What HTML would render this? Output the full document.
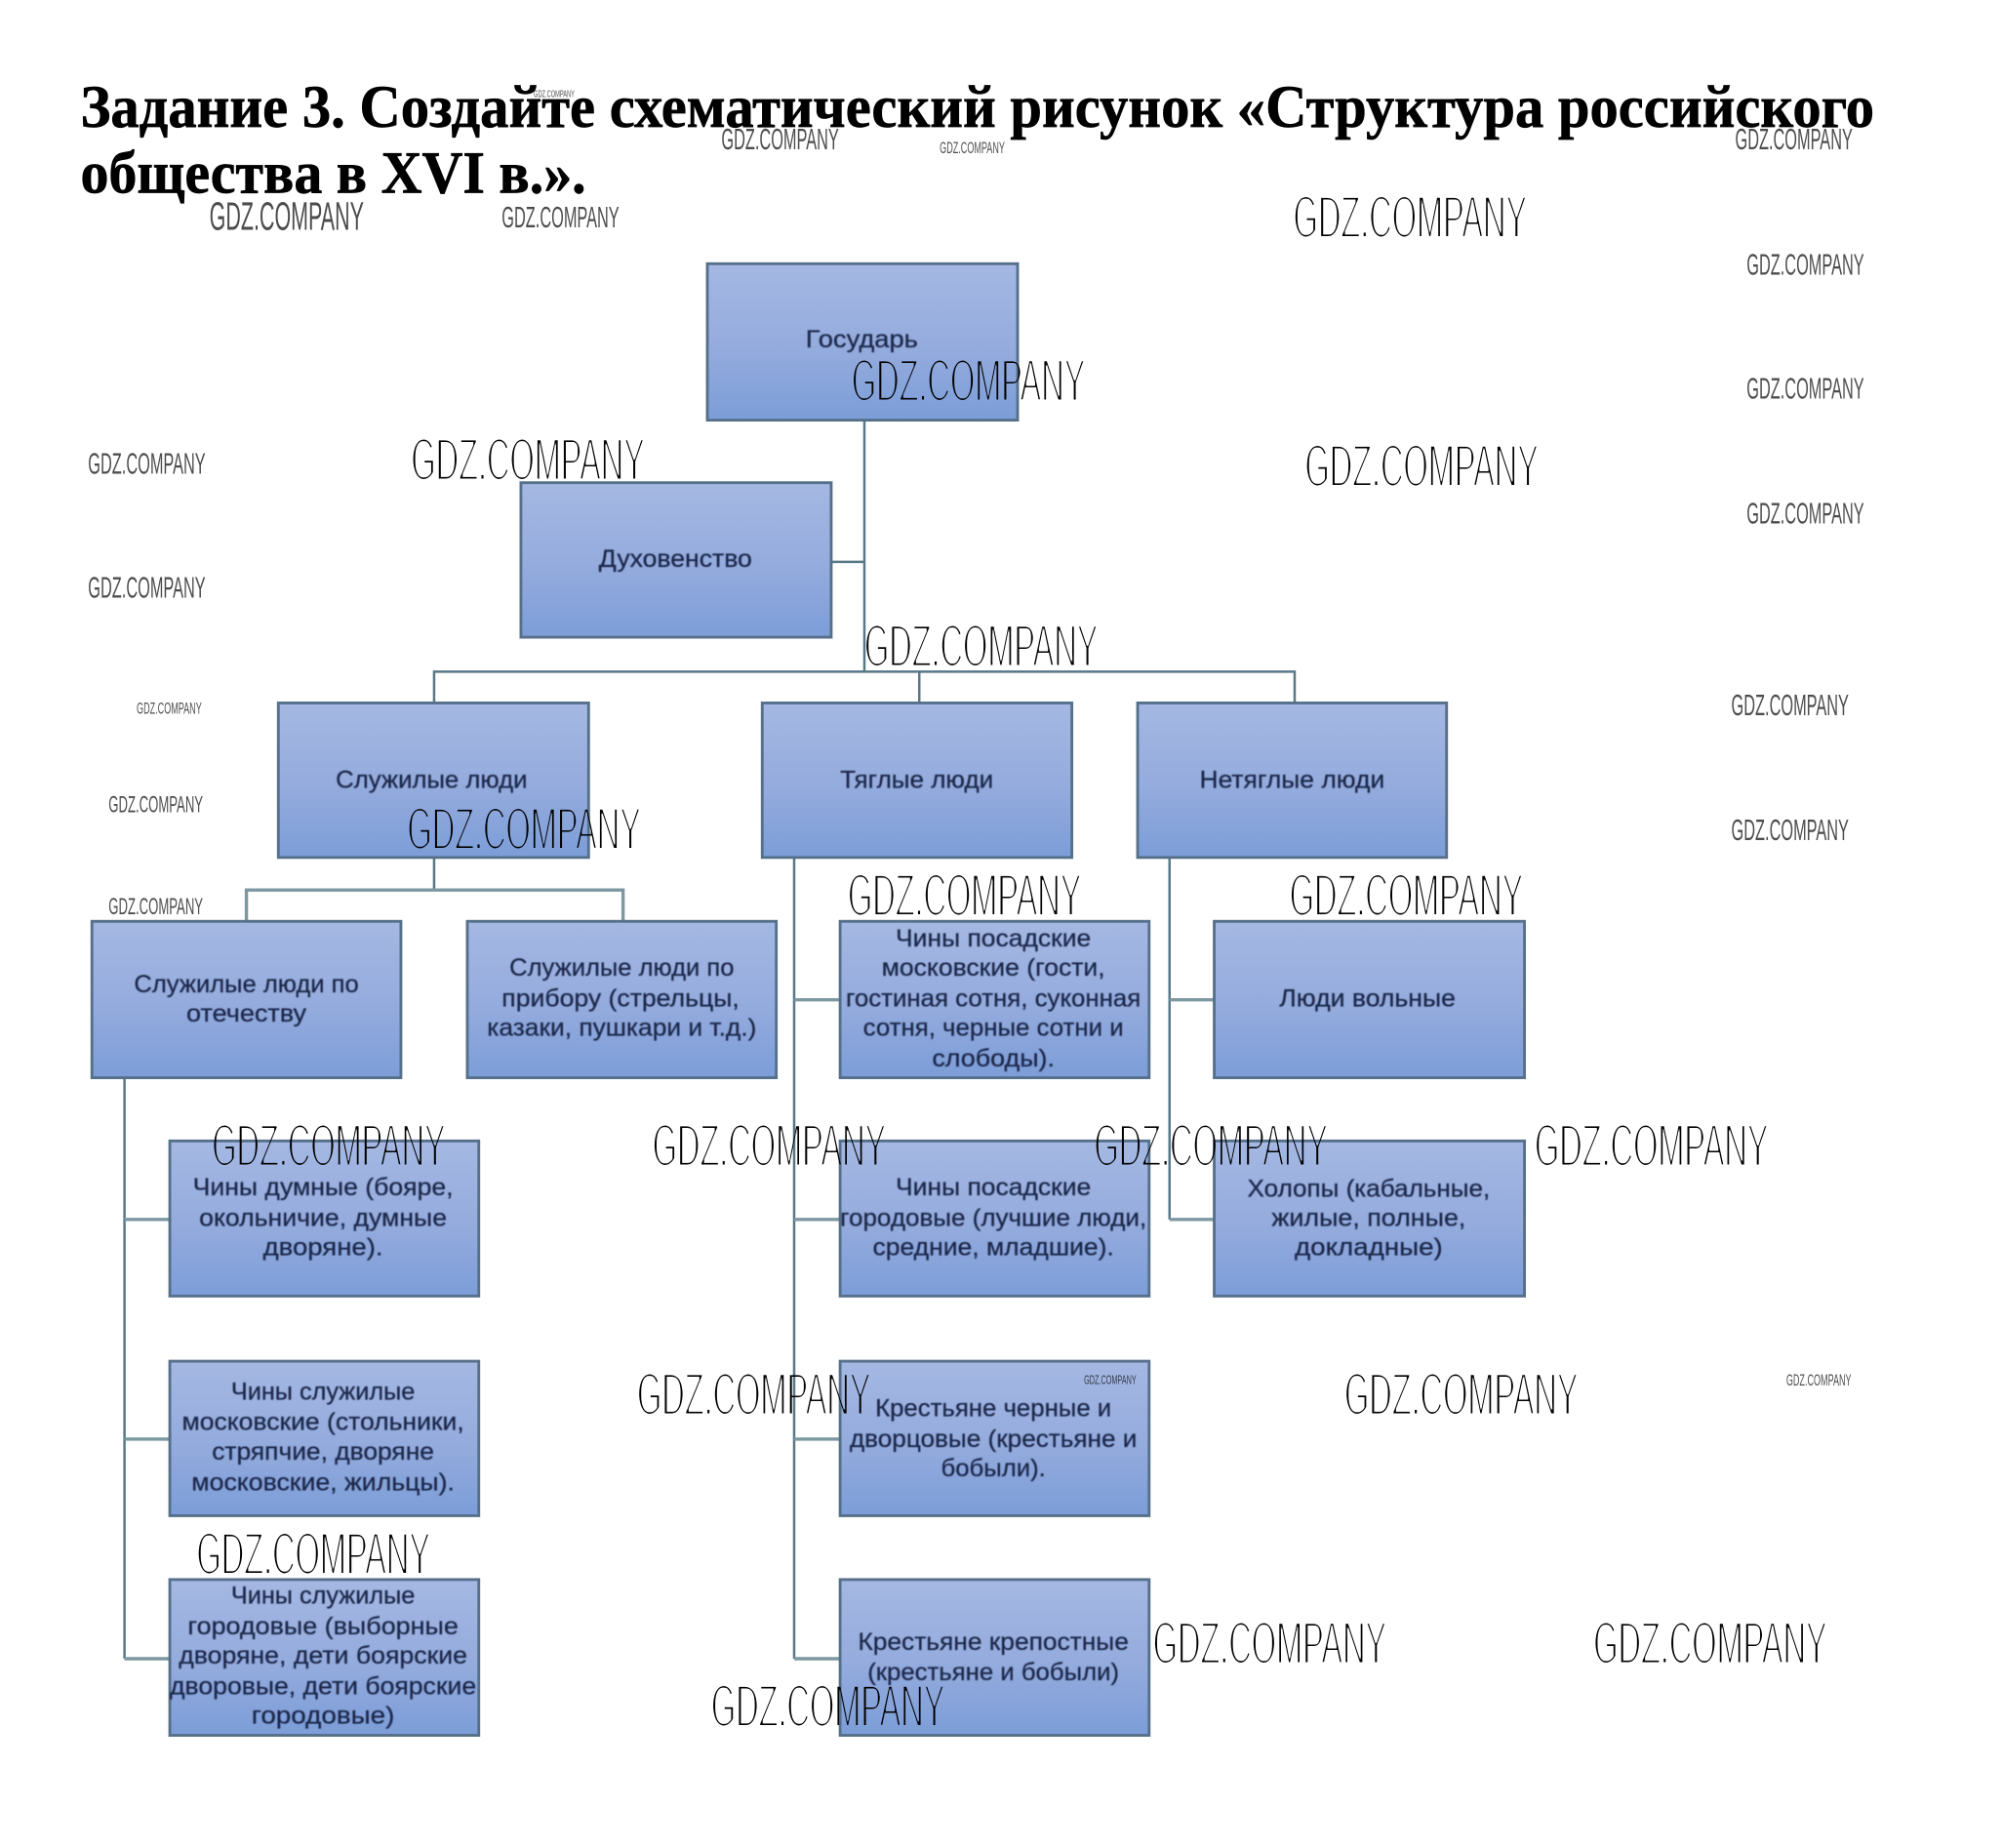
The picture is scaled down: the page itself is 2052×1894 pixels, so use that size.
<!DOCTYPE html>
<html lang="ru"><head><meta charset="utf-8"><title>Структура российского общества</title>
<style>
html,body{margin:0;padding:0;background:#fff;width:2052px;height:1894px;overflow:hidden}
svg{display:block}
.b{fill:url(#g);stroke:#56708a;stroke-width:2.2}
.l{fill:none;stroke:#587886;stroke-width:1.9}
.h{fill:none;stroke:#7d98a2;stroke-width:2.6}
.t text{font-family:"Liberation Sans",sans-serif;font-size:19px;fill:#1a2748;stroke:#1a2748;stroke-width:.2;text-anchor:middle}
.w text{font-family:"Liberation Sans",sans-serif;fill:#000}
.ttl{font-family:"Liberation Serif",serif;font-weight:bold;font-size:47px;fill:#000;stroke:#000;stroke-width:.5}
</style></head><body>
<svg xmlns="http://www.w3.org/2000/svg" width="2052" height="1894" viewBox="0 0 1568 1447.2">
<defs>
<linearGradient id="g" x1="0" y1="0" x2="0" y2="1"><stop offset="0" stop-color="#a5b8e3"/><stop offset=".55" stop-color="#94abdd"/><stop offset="1" stop-color="#7c9dd8"/></linearGradient>
<filter id="thin" x="-5%" y="-20%" width="110%" height="140%"><feMorphology operator="erode" radius="0.5 1"/></filter>
<filter id="soft" x="-5%" y="-20%" width="110%" height="140%"><feGaussianBlur stdDeviation="0.45"/></filter>
</defs>
<rect width="1568" height="1448" fill="#fff"/>
<text class="ttl" x="63" y="99.500" textLength="1405" lengthAdjust="spacingAndGlyphs">Задание 3. Создайте схематический рисунок «Структура российского</text>
<text class="ttl" x="63" y="151" textLength="396" lengthAdjust="spacingAndGlyphs">общества в XVI в.».</text>

<path class="l" d="M677 329V526M651 440H677M340 550V526H1014V550M720 526V550"/>
<path class="l" d="M340 671V696"/>
<path class="h" d="M193 721V697H488V721"/>
<path class="l" d="M97.500 844V1299M622 671V1299M916 671V955"/>
<path class="h" d="M97.500 955H133M97.500 1127H133M97.500 1299H133M622 783H658M622 955H658M622 1127H658M622 1299H658M916 783H951M916 955H951"/>

<rect class="b" x="554" y="206.500" width="243" height="122.500"/>
<rect class="b" x="408" y="378" width="243" height="121"/>
<rect class="b" x="218" y="550.500" width="243" height="121"/>
<rect class="b" x="597" y="550.500" width="242.500" height="121"/>
<rect class="b" x="891" y="550.500" width="242" height="121"/>
<rect class="b" x="72" y="721.500" width="242" height="122.500"/>
<rect class="b" x="366" y="721.500" width="242" height="122.500"/>
<rect class="b" x="658" y="721.500" width="242" height="122.500"/>
<rect class="b" x="951" y="721.500" width="243" height="122.500"/>
<rect class="b" x="133" y="893.500" width="242" height="121.500"/>
<rect class="b" x="658" y="893.500" width="242" height="121.500"/>
<rect class="b" x="951" y="893.500" width="243" height="121.500"/>
<rect class="b" x="133" y="1066" width="242" height="121"/>
<rect class="b" x="658" y="1066" width="242" height="121"/>
<rect class="b" x="133" y="1237" width="242" height="122"/>
<rect class="b" x="658" y="1237" width="242" height="122"/>

<g class="t" filter="url(#soft)">
<text x="675" y="272" textLength="88" lengthAdjust="spacingAndGlyphs">Государь</text>
<text x="529" y="444" textLength="120" lengthAdjust="spacingAndGlyphs">Духовенство</text>
<text x="338" y="617" textLength="150" lengthAdjust="spacingAndGlyphs">Служилые люди</text>
<text x="718" y="617" textLength="120" lengthAdjust="spacingAndGlyphs">Тяглые люди</text>
<text x="1012" y="617" textLength="145" lengthAdjust="spacingAndGlyphs">Нетяглые люди</text>
<text x="193" y="777" textLength="176" lengthAdjust="spacingAndGlyphs">Служилые люди по</text>
<text x="193" y="800" textLength="94" lengthAdjust="spacingAndGlyphs">отечеству</text>
<text x="487" y="764" textLength="176" lengthAdjust="spacingAndGlyphs">Служилые люди по</text>
<text x="486" y="788" textLength="186" lengthAdjust="spacingAndGlyphs">прибору (стрельцы,</text>
<text x="487" y="811" textLength="211" lengthAdjust="spacingAndGlyphs">казаки, пушкари и т.д.)</text>
<text x="778" y="741" textLength="153" lengthAdjust="spacingAndGlyphs">Чины посадские</text>
<text x="778" y="764" textLength="175" lengthAdjust="spacingAndGlyphs">московские (гости,</text>
<text x="778" y="788" textLength="231" lengthAdjust="spacingAndGlyphs">гостиная сотня, суконная</text>
<text x="778" y="811" textLength="204" lengthAdjust="spacingAndGlyphs">сотня, черные сотни и</text>
<text x="778" y="835" textLength="96" lengthAdjust="spacingAndGlyphs">слободы).</text>
<text x="1071" y="788" textLength="138" lengthAdjust="spacingAndGlyphs">Люди вольные</text>
<text x="253" y="936" textLength="204" lengthAdjust="spacingAndGlyphs">Чины думные (бояре,</text>
<text x="253" y="960" textLength="194" lengthAdjust="spacingAndGlyphs">окольничие, думные</text>
<text x="253" y="983" textLength="94" lengthAdjust="spacingAndGlyphs">дворяне).</text>
<text x="778" y="936" textLength="153" lengthAdjust="spacingAndGlyphs">Чины посадские</text>
<text x="778" y="960" textLength="240" lengthAdjust="spacingAndGlyphs">городовые (лучшие люди,</text>
<text x="778" y="983" textLength="189" lengthAdjust="spacingAndGlyphs">средние, младшие).</text>
<text x="1072" y="937" textLength="190" lengthAdjust="spacingAndGlyphs">Холопы (кабальные,</text>
<text x="1072" y="960" textLength="152" lengthAdjust="spacingAndGlyphs">жилые, полные,</text>
<text x="1072" y="983" textLength="116" lengthAdjust="spacingAndGlyphs">докладные)</text>
<text x="253" y="1096" textLength="144" lengthAdjust="spacingAndGlyphs">Чины служилые</text>
<text x="253" y="1120" textLength="221" lengthAdjust="spacingAndGlyphs">московские (стольники,</text>
<text x="253" y="1143" textLength="174" lengthAdjust="spacingAndGlyphs">стряпчие, дворяне</text>
<text x="253" y="1167" textLength="206" lengthAdjust="spacingAndGlyphs">московские, жильцы).</text>
<text x="253" y="1256" textLength="144" lengthAdjust="spacingAndGlyphs">Чины служилые</text>
<text x="253" y="1280" textLength="212" lengthAdjust="spacingAndGlyphs">городовые (выборные</text>
<text x="253" y="1303" textLength="226" lengthAdjust="spacingAndGlyphs">дворяне, дети боярские</text>
<text x="253" y="1327" textLength="240" lengthAdjust="spacingAndGlyphs">дворовые, дети боярские</text>
<text x="253" y="1350" textLength="112" lengthAdjust="spacingAndGlyphs">городовые)</text>
<text x="778" y="1109" textLength="185" lengthAdjust="spacingAndGlyphs">Крестьяне черные и</text>
<text x="778" y="1133" textLength="225" lengthAdjust="spacingAndGlyphs">дворцовые (крестьяне и</text>
<text x="778" y="1156" textLength="82" lengthAdjust="spacingAndGlyphs">бобыли).</text>
<text x="778" y="1292" textLength="212" lengthAdjust="spacingAndGlyphs">Крестьяне крепостные</text>
<text x="778" y="1316" textLength="197" lengthAdjust="spacingAndGlyphs">(крестьяне и бобыли)</text>
</g>

<g class="w" filter="url(#thin)" font-size="47">
<text x="1013" y="186" textLength="183" lengthAdjust="spacingAndGlyphs">GDZ.COMPANY</text>
<text x="667" y="314" textLength="183" lengthAdjust="spacingAndGlyphs">GDZ.COMPANY</text>
<text x="322" y="376" textLength="183" lengthAdjust="spacingAndGlyphs">GDZ.COMPANY</text>
<text x="1022" y="381" textLength="183" lengthAdjust="spacingAndGlyphs">GDZ.COMPANY</text>
<text x="677" y="522" textLength="183" lengthAdjust="spacingAndGlyphs">GDZ.COMPANY</text>
<text x="319" y="665" textLength="183" lengthAdjust="spacingAndGlyphs">GDZ.COMPANY</text>
<text x="664" y="717" textLength="183" lengthAdjust="spacingAndGlyphs">GDZ.COMPANY</text>
<text x="1010" y="717" textLength="183" lengthAdjust="spacingAndGlyphs">GDZ.COMPANY</text>
<text x="166" y="913" textLength="183" lengthAdjust="spacingAndGlyphs">GDZ.COMPANY</text>
<text x="511" y="913" textLength="183" lengthAdjust="spacingAndGlyphs">GDZ.COMPANY</text>
<text x="857" y="913" textLength="183" lengthAdjust="spacingAndGlyphs">GDZ.COMPANY</text>
<text x="1202" y="913" textLength="183" lengthAdjust="spacingAndGlyphs">GDZ.COMPANY</text>
<text x="499" y="1108" textLength="183" lengthAdjust="spacingAndGlyphs">GDZ.COMPANY</text>
<text x="1053" y="1108" textLength="183" lengthAdjust="spacingAndGlyphs">GDZ.COMPANY</text>
<text x="154" y="1233" textLength="183" lengthAdjust="spacingAndGlyphs">GDZ.COMPANY</text>
<text x="903" y="1303" textLength="183" lengthAdjust="spacingAndGlyphs">GDZ.COMPANY</text>
<text x="1248" y="1303" textLength="183" lengthAdjust="spacingAndGlyphs">GDZ.COMPANY</text>
<text x="557" y="1352" textLength="183" lengthAdjust="spacingAndGlyphs">GDZ.COMPANY</text>
</g>
<g class="w" fill-opacity=".7" font-size="23.500">
<text x="565" y="117" textLength="92" lengthAdjust="spacingAndGlyphs">GDZ.COMPANY</text>
<text x="1359" y="117" textLength="92" lengthAdjust="spacingAndGlyphs">GDZ.COMPANY</text>
<text x="393" y="178" textLength="92" lengthAdjust="spacingAndGlyphs">GDZ.COMPANY</text>
<text x="1368" y="215" textLength="92" lengthAdjust="spacingAndGlyphs">GDZ.COMPANY</text>
<text x="1368" y="312" textLength="92" lengthAdjust="spacingAndGlyphs">GDZ.COMPANY</text>
<text x="1368" y="410" textLength="92" lengthAdjust="spacingAndGlyphs">GDZ.COMPANY</text>
<text x="69" y="371" textLength="92" lengthAdjust="spacingAndGlyphs">GDZ.COMPANY</text>
<text x="69" y="468" textLength="92" lengthAdjust="spacingAndGlyphs">GDZ.COMPANY</text>
<text x="1356" y="560" textLength="92" lengthAdjust="spacingAndGlyphs">GDZ.COMPANY</text>
<text x="1356" y="658" textLength="92" lengthAdjust="spacingAndGlyphs">GDZ.COMPANY</text>
<text x="164" y="180" textLength="121" font-size="31" lengthAdjust="spacingAndGlyphs">GDZ.COMPANY</text>
<text x="85" y="636" textLength="74" font-size="18.500" lengthAdjust="spacingAndGlyphs">GDZ.COMPANY</text>
<text x="85" y="716" textLength="74" font-size="18.500" lengthAdjust="spacingAndGlyphs">GDZ.COMPANY</text>
</g>
<g class="w" fill-opacity=".7">
<text x="736" y="120" textLength="51" font-size="12.400" lengthAdjust="spacingAndGlyphs">GDZ.COMPANY</text>
<text x="107" y="559" textLength="51" font-size="12.400" lengthAdjust="spacingAndGlyphs">GDZ.COMPANY</text>
<text x="1399" y="1085" textLength="51" font-size="12.400" lengthAdjust="spacingAndGlyphs">GDZ.COMPANY</text>
<text x="849" y="1084" textLength="41" font-size="10" lengthAdjust="spacingAndGlyphs">GDZ.COMPANY</text>
<text x="418" y="76" textLength="32" font-size="7.800" lengthAdjust="spacingAndGlyphs">GDZ.COMPANY</text>
</g>
</svg>
</body></html>
